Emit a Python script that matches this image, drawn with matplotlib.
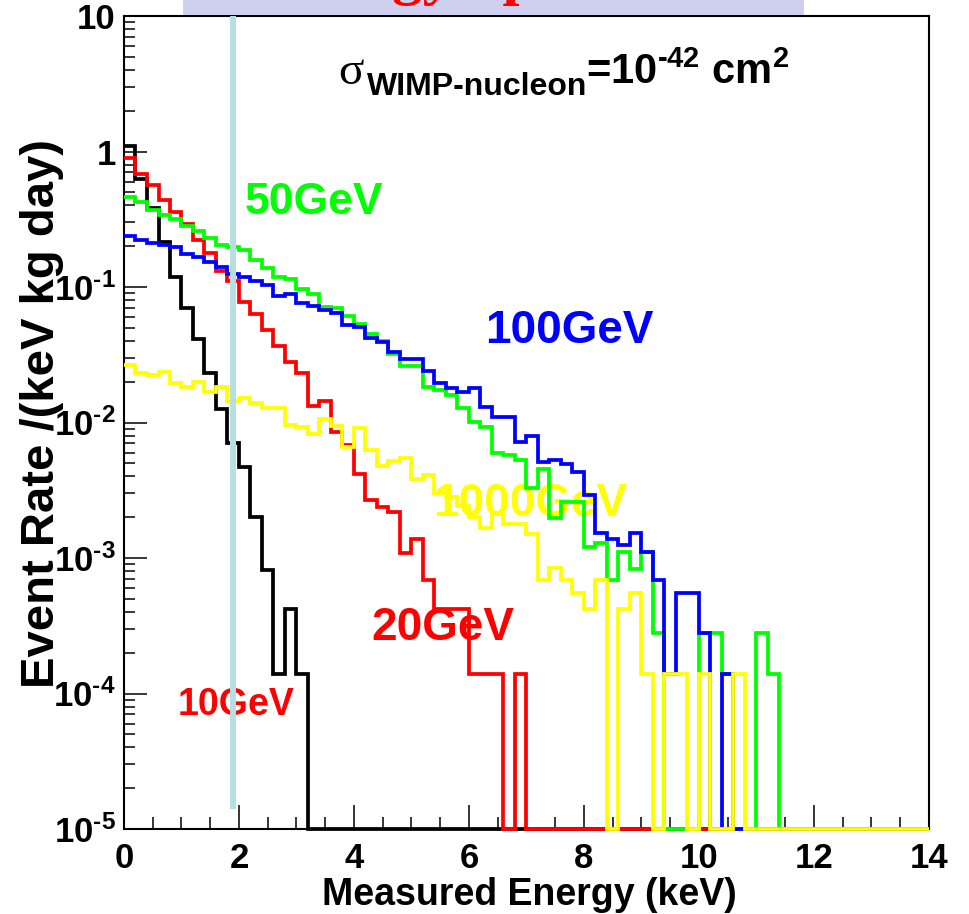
import numpy as np
import matplotlib
matplotlib.use("Agg")
import matplotlib.pyplot as plt
from matplotlib.patches import Rectangle
from matplotlib.ticker import FixedLocator, FixedFormatter, LogLocator, MultipleLocator, NullFormatter

plt.rcParams['font.family'] = ['Liberation Sans', 'DejaVu Sans']
plt.rcParams['mathtext.fontset'] = 'custom'
plt.rcParams['mathtext.rm'] = 'Liberation Sans:bold'
plt.rcParams['mathtext.bf'] = 'Liberation Sans:bold'
plt.rcParams['mathtext.it'] = 'Liberation Sans:bold:italic'

# energy bins: 0-14 keV, 0.2 keV wide
edges = np.linspace(0, 14, 71)
ymin, ymax = 1e-5, 10
threshold = 1.89

# event rate / (keV kg day) per bin
m10 = [1.1, 0.63, 0.38, 0.215, 0.118, 0.070, 0.041, 0.023, 0.0126, 0.0071,
       0.0047, 0.0020, 0.00081, 0.00014, 0.00042, 0.00014] + [0] * 54
m20 = [0.90, 0.68, 0.57, 0.44, 0.355, 0.29, 0.223, 0.177, 0.131, 0.11,
       0.078, 0.063, 0.048, 0.037, 0.028, 0.023, 0.0132, 0.0145, 0.0085, 0.0068,
       0.0042, 0.0027, 0.00236, 0.0022, 0.00109, 0.00138, 0.00069, 0.00042, 0.00042, 0.00042,
       0.00014, 0.00014, 0.00014, 0, 0.00014] + [0] * 35
m50 = [0.465, 0.425, 0.37, 0.339, 0.315, 0.28, 0.258, 0.229, 0.203, 0.196,
       0.186, 0.158, 0.137, 0.119, 0.115, 0.096, 0.089, 0.0715, 0.0695, 0.0615,
       0.053, 0.045, 0.040, 0.032, 0.026, 0.026, 0.0184, 0.0175, 0.016, 0.0127,
       0.0101, 0.0093, 0.006, 0.0058, 0.0053, 0.0033, 0.0045, 0.00196, 0.0026, 0.0026,
       0.0012, 0.0013, 0.00069, 0.0011, 0.00083, 0.0011, 0.00028, 0, 0, 0,
       0.00028, 0.00028, 0.00014, 0, 0, 0.00028, 0.00014] + [0] * 13
m100 = [0.238, 0.222, 0.21, 0.204, 0.196, 0.175, 0.166, 0.154, 0.141, 0.125,
        0.119, 0.11, 0.104, 0.086, 0.089, 0.076, 0.072, 0.068, 0.064, 0.052,
        0.051, 0.042, 0.0395, 0.0334, 0.0296, 0.0296, 0.0241, 0.0197, 0.0179, 0.0169,
        0.0179, 0.0131, 0.011, 0.011, 0.0072, 0.0079, 0.0051, 0.0053, 0.0049, 0.0043,
        0.0029, 0.00153, 0.00137, 0.00125, 0.00153, 0.0011, 0.00069, 0.00014, 0.00055, 0.00055,
        0.00028, 0, 0.00014] + [0] * 17
m1000 = [0.0265, 0.0231, 0.0224, 0.0237, 0.0195, 0.0184, 0.020, 0.0169, 0.0182, 0.0145,
         0.0151, 0.014, 0.0129, 0.0127, 0.0096, 0.0092, 0.0082, 0.0107, 0.0095, 0.0066,
         0.0091, 0.0063, 0.0048, 0.0052, 0.0055, 0.0038, 0.0041, 0.0030, 0.0028, 0.0024,
         0.0020, 0.00166, 0.0021, 0.00178, 0.00178, 0.0015, 0.00069, 0.00084, 0.00069, 0.00055,
         0.00042, 0.00069, 0, 0.00042, 0.00055, 0.00014, 0, 0.00014, 0.00014, 0,
         0.00014, 0, 0, 0.00014] + [0] * 16

series = [m10, m20, m50, m100, m1000]
colors = ['black', 'red', '#00ff00', 'blue', '#ffff00']

labels = ['10GeV', '20GeV', '50GeV', '100GeV', '1000GeV']
label_x = [0.94, 4.30, 2.10, 6.28, 5.37]
label_y = [6.9e-5, 2.48e-4, 0.346, 0.0386, 0.00204]
label_size = [27, 33, 32, 33, 33]
label_color = ['red', 'red', '#00ff00', 'blue', '#ffff00']

ytick_vals = [1e-5, 1e-4, 1e-3, 1e-2, 1e-1, 1, 10]
ytick_text = [r'$10^{\text{-5}}$', r'$10^{\text{-4}}$', r'$10^{\text{-3}}$', r'$10^{\text{-2}}$',
              r'$10^{\text{-1}}$', '1', '10']

fig = plt.figure(figsize=(9.69, 9.14), dpi=100)
ax = fig.add_axes([124/969, 1-829/914, (929-124)/969, (829-16)/914])

for vals, c in zip(series, colors):
    v = np.clip(np.array(vals, dtype=float), ymin, None)
    ax.stairs(v, edges, baseline=None, color=c, linewidth=2.7, zorder=2.6, clip_on=False)

for t, x, y, s, c in zip(labels, label_x, label_y, label_size, label_color):
    ax.text(x, y, t, color=c, fontsize=s, fontweight='bold', ha='left', va='baseline', zorder=1.5)

ax.plot([threshold, threshold], [1.4e-5, ymax], color='#b7dee2', linewidth=4.3, zorder=3,
        solid_capstyle='butt')

ax.set_yscale('log')
ax.set_xlim(0, 14)
ax.set_ylim(ymin, ymax)

ax.yaxis.set_major_locator(FixedLocator(ytick_vals))
ax.yaxis.set_major_formatter(FixedFormatter(ytick_text))
ax.yaxis.set_minor_locator(LogLocator(base=10, subs=np.arange(2, 10), numticks=20))
ax.yaxis.set_minor_formatter(NullFormatter())
ax.xaxis.set_major_locator(MultipleLocator(2))
ax.xaxis.set_minor_locator(MultipleLocator(0.5))

ax.tick_params(axis='y', which='major', direction='in', length=16.5, width=1.1, pad=6,
               labelsize=25, right=False)
ax.tick_params(axis='y', which='minor', direction='in', length=8, width=1.1, right=False)
ax.tick_params(axis='x', which='major', direction='in', length=17, width=1.1, pad=9,
               labelsize=25, top=False)
ax.tick_params(axis='x', which='minor', direction='in', length=8.5, width=1.1, top=False)
for lab in ax.get_xticklabels() + ax.get_yticklabels():
    lab.set_fontweight('bold')
for sp in ax.spines.values():
    sp.set_linewidth(1.5)

fig.text(529/969, 1-905/914, 'Measured Energy (keV)', fontsize=27, fontweight='bold',
         ha='center', va='baseline')
fig.text(42/969, 1-413/914, 'Event Rate /(keV kg day)', fontsize=34, fontweight='bold',
         rotation=90, ha='center', va='center')

# cross-section annotation
fig.text(338/969, 1-84/914, '\u03c3', fontsize=34, family='Liberation Serif', va='baseline')
fig.text(367/969, 1-95/914, 'WIMP-nucleon', fontsize=23, fontweight='bold', va='baseline')
fig.text(586/969, 1-84/914, r'=10$^{\text{-42}}$ cm$^{2}$', fontsize=30, fontweight='bold',
         va='baseline')

# cut-off title box at the top
fig.add_artist(Rectangle((183/969, 1-15/914), (804-183)/969, 15/914, transform=fig.transFigure,
                         facecolor='#cfd0ef', edgecolor='none', zorder=5))
fig.text(493/969, 1+7/914, 'Energy Spectrum', fontsize=44, fontweight='bold',
         family='Liberation Serif', color='red', ha='center', va='baseline', zorder=6)

fig.savefig('out.png', dpi=100)
